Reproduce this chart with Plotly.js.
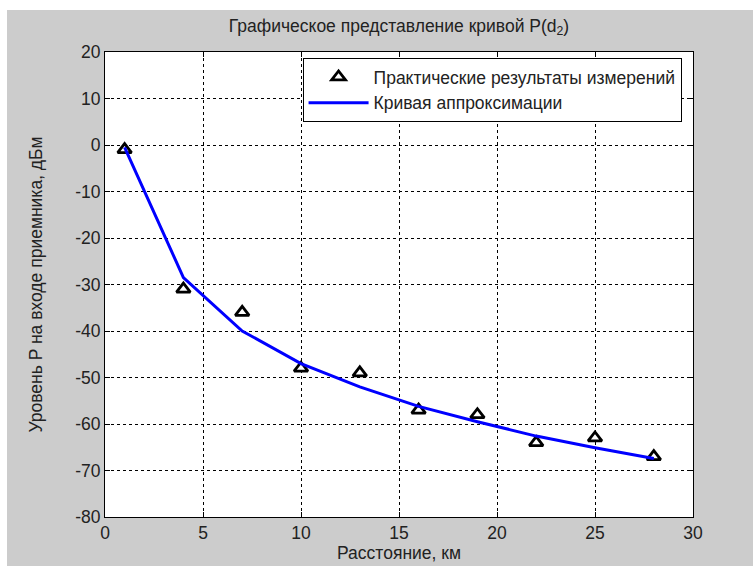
<!DOCTYPE html>
<html>
<head>
<meta charset="utf-8">
<script src="https://cdn.plot.ly/plotly-3.0.1.min.js"></script>
<style>
  html, body { margin: 0; padding: 0; background: #ffffff; width: 753px; height: 571px; overflow: hidden; }
  #fig { position: absolute; left: 7px; top: 10px; width: 746px; height: 556px; }
</style>
</head>
<body>
<div id="fig"></div>
<script>
// Distance to the transmitter, km
const distanceKm = [1, 4, 7, 10, 13, 16, 19, 22, 25, 28];
// Measured received power, dBm
const measuredDbm = [-1, -31, -36, -48, -49, -57, -58, -64, -63, -67];
// Approximating curve, dBm
const fittedDbm = [-0.5, -28.5, -40, -47, -52, -56.2, -59.5, -62.6, -65.1, -67.4];

const xTicks = [0, 5, 10, 15, 20, 25, 30];
const yTicks = [-80, -70, -60, -50, -40, -30, -20, -10, 0, 10, 20];

const FONT = 'Liberation Sans, Arial, sans-serif';
const FS = 17.5;
const TXT = '#222222';

const traces = [
  {
    x: distanceKm,
    y: measuredDbm,
    name: 'Практические результаты измерений',
    mode: 'markers',
    type: 'scatter',
    marker: { symbol: 'triangle-up', size: 12, color: '#ffffff', line: { color: '#000000', width: 2.8 } }
  },
  {
    x: distanceKm,
    y: fittedDbm,
    name: 'Кривая аппроксимации',
    mode: 'lines',
    type: 'scatter',
    line: { color: '#0000ff', width: 3 }
  }
];

const axisCommon = {
  showline: true,
  linecolor: '#000000',
  linewidth: 1,
  mirror: 'ticks',
  ticks: 'inside',
  ticklen: 5,
  tickcolor: '#000000',
  showgrid: true,
  gridcolor: '#000000',
  gridwidth: 1,
  griddash: '3px,3px',
  zeroline: false,
  tickfont: { family: FONT, size: FS, color: TXT },
  automargin: false
};

const layout = {
  width: 746,
  height: 556,
  paper_bgcolor: '#cccccc',
  plot_bgcolor: '#ffffff',
  margin: { l: 98, r: 60, t: 42, b: 49 },
  font: { family: FONT, size: FS, color: TXT },
  title: {
    text: 'Графическое представление кривой P(d<sub>2</sub>)',
    font: { family: FONT, size: FS, color: TXT },
    xref: 'paper', x: 0.5, xanchor: 'center',
    yref: 'container', y: 0.972, yanchor: 'middle'
  },
  xaxis: Object.assign({}, axisCommon, {
    range: [0, 30],
    tickvals: xTicks,
    ticktext: xTicks.map(String),
    ticklabelstandoff: 0,
    title: { text: 'Расстояние, км', font: { family: FONT, size: FS, color: TXT }, standoff: 0 }
  }),
  yaxis: Object.assign({}, axisCommon, {
    range: [-80, 20],
    tickvals: yTicks,
    ticktext: yTicks.map(String),
    title: { text: 'Уровень P на входе приемника, дБм', font: { family: FONT, size: FS, color: TXT }, standoff: 28 }
  }),
  showlegend: true,
  legend: {
    x: 0.336, y: 0.987, xanchor: 'left', yanchor: 'top',
    bgcolor: '#ffffff',
    bordercolor: '#000000',
    borderwidth: 1,
    font: { family: FONT, size: FS, color: TXT },
    itemwidth: 60,
    tracegroupgap: 0
  }
};

Plotly.newPlot('fig', traces, layout, { displayModeBar: false, staticPlot: true });
</script>
</body>
</html>
